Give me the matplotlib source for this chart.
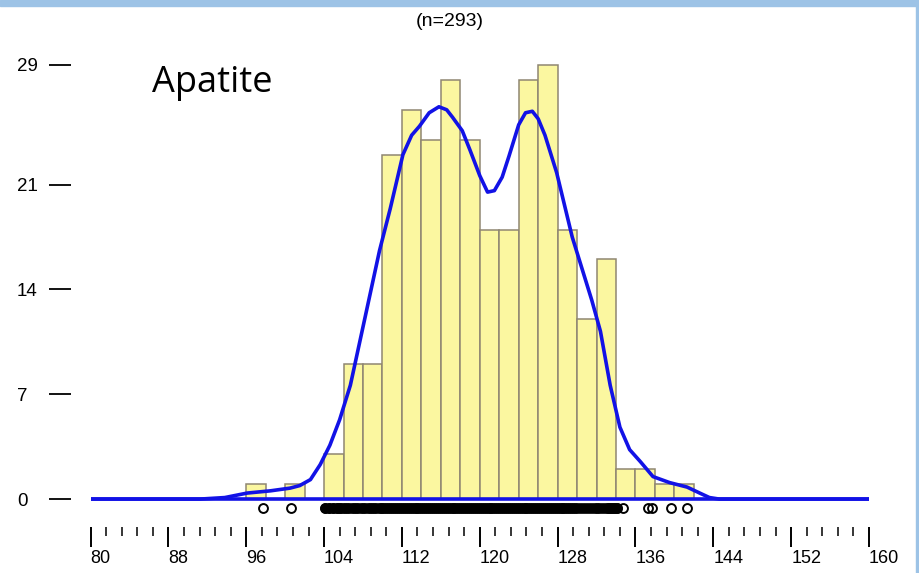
import matplotlib.pyplot as plt
from matplotlib.patches import Rectangle

plt.rcParams['font.family'] = ['Liberation Sans', 'DejaVu Sans']

# histogram: bin edges and counts (n=293)
bin_left = [96, 98, 100, 102, 104, 106, 108, 110, 112, 114, 116, 118,
            120, 122, 124, 126, 128, 130, 132, 134, 136, 138, 140]
counts = [1, 0, 1, 0, 3, 9, 9, 23, 26, 24, 28, 24,
          18, 18, 28, 29, 18, 12, 16, 2, 2, 1, 1]
bin_w = 2

# density curve (scaled to counts)
curve_x = [80, 91.3, 93.8, 96.1, 98.5, 100.5, 101.5, 102.6, 103.6, 104.6,
           105.6, 106.7, 107.7, 108.7, 109.7, 110.8, 112.1, 113.0, 113.8, 114.8,
           115.8, 116.6, 117.2, 118.2, 119.0, 120.0, 120.8, 121.5, 122.3, 123.0,
           124.0, 124.7, 125.4, 126.0, 126.7, 127.9, 129.5, 130.5, 131.5, 132.4,
           133.4, 134.4, 135.4, 136.5, 137.8, 139.5, 141.3, 142.6, 143.6, 144.6,
           150, 160]
curve_y = [0, 0, 0.1, 0.4, 0.55, 0.73, 0.9, 1.3, 2.3, 3.6,
           5.3, 7.6, 10.6, 13.6, 16.6, 19.4, 23.0, 24.3, 24.9, 25.8,
           26.2, 26.0, 25.5, 24.6, 23.3, 21.6, 20.5, 20.6, 21.5, 22.9,
           25.0, 25.8, 25.9, 25.4, 24.3, 21.8, 17.5, 15.4, 13.3, 11.2,
           7.6, 4.8, 3.3, 2.5, 1.5, 1.1, 0.8, 0.4, 0.1, 0,
           0, 0]

# rug of single observations
rug_sparse = [97.7, 100.6, 134.7, 137.3, 137.7, 139.7, 141.3]
rug_dense = [104.1, 104.5, 104.9, 105.3, 105.6, 105.9, 106.2, 106.4, 106.6, 106.9,
             107.1, 107.3, 107.5, 107.8, 108.0, 108.2, 108.5, 108.7, 108.9, 109.1,
             109.3, 109.6, 109.8, 110.0, 110.2, 110.4, 110.6, 110.8, 111.0, 111.2,
             111.4, 111.6, 111.8, 112.0, 112.2, 112.4, 112.6, 112.8, 113.0, 113.2,
             113.4, 113.6, 113.8, 114.0, 114.2, 114.4, 114.6, 114.8, 115.0, 115.2,
             115.4, 115.6, 115.8, 116.0, 116.2, 116.4, 116.6, 116.8, 117.0, 117.2,
             117.4, 117.6, 117.8, 118.0, 118.2, 118.4, 118.6, 118.8, 119.0, 119.2,
             119.4, 119.6, 119.8, 120.0, 120.2, 120.4, 120.6, 120.8, 121.0, 121.2,
             121.4, 121.6, 121.8, 122.0, 122.2, 122.4, 122.6, 122.8, 123.0, 123.2,
             123.4, 123.6, 123.8, 124.0, 124.2, 124.4, 124.6, 124.8, 125.0, 125.2,
             125.4, 125.6, 125.8, 126.0, 126.2, 126.4, 126.6, 126.8, 127.0, 127.2,
             127.4, 127.6, 127.8, 128.0, 128.2, 128.4, 128.6, 128.8, 129.0, 129.2,
             129.4, 129.6, 129.8, 130.0, 130.3, 130.6, 130.9, 131.2, 131.5, 131.8,
             132.0, 132.3, 132.6, 132.9, 133.2, 133.5, 133.8, 134.1]

yticks = [0, 7, 14, 21, 29]
xticks = [80, 88, 96, 104, 112, 120, 128, 136, 144, 152, 160]
xminor = [80 + 1.6 * i for i in range(51)]

fig = plt.figure(figsize=(9.2, 5.73), dpi=100)
ax = fig.add_axes([0.0984, 0.0977, 0.8462, 0.8283])

ax.bar(bin_left, counts, width=bin_w, align='edge', color='#fbf7a0',
       edgecolor='#8f8672', linewidth=1.1, zorder=2)
ax.plot([80, 160], [0, 0], color='#1212e6', lw=2.6, zorder=3)
ax.plot(curve_x, curve_y, color='#1212e6', lw=2.6, zorder=4,
        solid_joinstyle='round')
ax.plot(rug_dense, [-0.57] * len(rug_dense), 'o', mfc='black', mec='black',
        ms=6.4, mew=1.3, clip_on=False, zorder=5)
ax.plot(rug_dense[:5] + rug_dense[-4:], [-0.57] * 9, 'o', mfc='none', mec='black',
        ms=6.4, mew=1.3, clip_on=False, zorder=5)
ax.plot(rug_sparse, [-0.57] * len(rug_sparse), 'o', mfc='none', mec='black',
        ms=6.4, mew=1.4, clip_on=False, zorder=5)

ax.set_xlim(80, 160)
ax.set_ylim(-1.2, 30.5)

for s in ['top', 'right', 'left', 'bottom']:
    ax.spines[s].set_visible(False)
ax.spines['left'].set_position(('outward', 14))
ax.spines['bottom'].set_position(('outward', 7.2))

ax.set_yticks(yticks)
ax.set_yticklabels([str(v) for v in yticks])
ax.tick_params(axis='y', direction='out', length=16, width=1.3, pad=23,
               labelsize=13.5)
for lbl in ax.get_yticklabels():
    lbl.set_ha('left')

ax.set_xticks(xticks)
ax.set_xticks(xminor, minor=True)
ax.set_xticklabels([str(v) for v in xticks])
ax.tick_params(axis='x', which='major', direction='out', length=14.4, width=1.4,
               pad=2.5, labelsize=13)
ax.tick_params(axis='x', which='minor', direction='out', length=6.5, width=1.1)
for lbl in ax.get_xticklabels():
    lbl.set_ha('left')

fig.text(450 / 920, 1 - 22 / 573, '(n=293)', ha='center', va='center',
         fontsize=14)
fig.text(152 / 920, 1 - 92 / 573, 'Apatite', ha='left', va='baseline',
         fontsize=26, family=['Open Sans', 'DejaVu Sans'])

# light blue frame strips (top and right)
fig.patches.append(Rectangle((0, 1 - 6 / 573), 1, 6 / 573, transform=fig.transFigure,
                             color='#9dc3e6', zorder=0))
fig.patches.append(Rectangle((1 - 4 / 920, 0), 4 / 920, 1, transform=fig.transFigure,
                             color='#9dc3e6', zorder=0))

plt.savefig('out.png', dpi=100)
